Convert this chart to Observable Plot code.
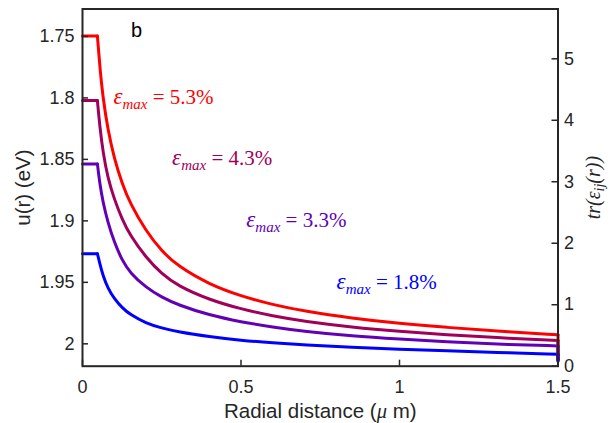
<!DOCTYPE html>
<html><head><meta charset="utf-8">
<script src="https://cdn.jsdelivr.net/npm/d3@7"></script>
<script src="https://cdn.jsdelivr.net/npm/@observablehq/plot@0.6"></script>
<style>html,body{margin:0;padding:0;background:#fff;overflow:hidden}</style>
</head><body><div id="chart"></div>
<script>
// ---- data ----
const radius   = [0, 0.047, 0.055, 0.065, 0.08, 0.1, 0.125, 0.15, 0.2, 0.25, 0.3, 0.4, 0.5, 0.6, 0.7, 0.85, 1.0, 1.15, 1.3, 1.5];
const strain53 = [5.37, 5.37, 4.85, 4.35, 3.85, 3.38, 2.97, 2.65, 2.20, 1.87, 1.63, 1.33, 1.14, 1.00, 0.895, 0.78, 0.695, 0.63, 0.575, 0.51];
const strain43 = [4.32, 4.32, 3.88, 3.47, 3.06, 2.72, 2.39, 2.13, 1.77, 1.50, 1.31, 1.08, 0.93, 0.815, 0.73, 0.635, 0.565, 0.51, 0.465, 0.42];
const strain33 = [3.29, 3.29, 2.95, 2.66, 2.34, 2.02, 1.72, 1.52, 1.28, 1.12, 1.00, 0.83, 0.72, 0.635, 0.565, 0.49, 0.44, 0.395, 0.36, 0.33];
const strain18 = [1.83, 1.83, 1.66, 1.47, 1.27, 1.10, 0.95, 0.84, 0.70, 0.62, 0.56, 0.48, 0.42, 0.38, 0.345, 0.305, 0.275, 0.25, 0.225, 0.195];
const edgeStrain = [0.10, 0.10, 0.10, 0.08];      // where each curve ends at r = 1.5
const seriesNames = ["5.3%", "4.3%", "3.3%", "1.8%"];
const seriesColors = ["#ff0000", "#a0005a", "#6200b8", "#0000ff"];
const flatEnd = 0.047;

const xTicks = [0, 0.5, 1, 1.5];
const uTicks = [1.75, 1.8, 1.85, 1.9, 1.95, 2];
const trTicks = [0, 1, 2, 3, 4, 5];
// left axis u(r) relates linearly to right axis tr: u = U0 - K * tr
const U0 = 2.0182, K = 0.05;

// annotation anchors (data units)
const noteX = [0.0976, 0.2825, 0.5165, 0.8016];
const noteY = [4.38, 3.38, 2.38, 1.36];

// ---- build rows ----
const allSeries = [strain53, strain43, strain33, strain18];
const rows = [];
allSeries.forEach((vals, s) => radius.forEach((r, i) => rows.push({series: seriesNames[s], x: r, tr: vals[i]})));
const flatRows = rows.filter(d => d.x <= flatEnd);
const decayRows = rows.filter(d => d.x >= flatEnd);
const dropRows = [];
allSeries.forEach((vals, s) => {
  dropRows.push({series: seriesNames[s], x: radius[radius.length - 1], tr: vals[vals.length - 1]});
  dropRows.push({series: seriesNames[s], x: radius[radius.length - 1], tr: edgeStrain[s]});
});
const notes = seriesNames.map((n, i) => ({series: n, x: noteX[i], tr: noteY[i], text: "εmax = " + n}));

const W = 610, H = 423, mL = 82, mR = 52.5, mT = 8.5, mB = 57.3;
const plotW = W - mL - mR, plotH = H - mT - mB;
const ink = "#262626";
const serif = "'Liberation Serif', 'Times New Roman', serif";
const lineOpts = {x: "x", y: "tr", z: "series", stroke: "series", strokeWidth: 3, strokeLinejoin: "round"};

const svg = Plot.plot({
  width: W, height: H,
  marginLeft: mL, marginRight: mR, marginTop: mT, marginBottom: mB,
  style: {fontFamily: "'Liberation Sans', Arial, sans-serif", fontSize: "18px", color: ink, background: "#fff"},
  x: {domain: [0, 1.5]},
  y: {domain: [0, 5.81]},
  color: {domain: seriesNames, range: seriesColors},
  marks: [
    Plot.line(flatRows, lineOpts),
    Plot.line(decayRows, {...lineOpts, curve: "basis"}),
    Plot.line(dropRows, lineOpts),
    Plot.text(notes, {x: "x", y: "tr", text: "text", fill: "series", textAnchor: "start", lineAnchor: "middle",
      fontFamily: serif, fontSize: 21}),
    Plot.frame({stroke: ink, strokeWidth: 2}),
    Plot.tickY(uTicks.map(u => (U0 - u) / K), {y: d => d, stroke: ink, strokeWidth: 1.5, insetRight: plotW - 6}),
    Plot.tickY(trTicks, {y: d => d, stroke: ink, strokeWidth: 1.5, insetLeft: plotW - 6}),
    Plot.tickX(xTicks, {x: d => d, stroke: ink, strokeWidth: 1.5, insetTop: plotH - 6}),
    Plot.axisY(uTicks.map(u => (U0 - u) / K), {anchor: "left", tickSize: 0, tickPadding: 8, label: null, fontSize: 18,
      tickFormat: d => String(+(U0 - d * K).toFixed(2))}),
    Plot.axisY(trTicks, {anchor: "right", tickSize: 0, tickPadding: 6, label: null, fontSize: 18, tickFormat: d => String(d)}),
    Plot.axisX(xTicks, {anchor: "bottom", tickSize: 0, tickPadding: 14, label: null, fontSize: 18, tickFormat: d => String(d)}),
    Plot.text(["u(r) (eV)"], {frameAnchor: "left", textAnchor: "middle", lineAnchor: "middle",
      dx: -59, rotate: -90, fontSize: 20.5, fill: ink}),
    Plot.text(["Radial distance (μ m)"], {frameAnchor: "bottom", textAnchor: "middle", lineAnchor: "top",
      dy: 37, fontSize: 20.5, fill: ink}),
    Plot.text(["tr(εij(r))"], {frameAnchor: "right", textAnchor: "middle", lineAnchor: "middle",
      dx: 35.5, rotate: -90, fontSize: 20, fill: ink, fontFamily: serif, fontStyle: "italic"}),
    Plot.text(["b"], {frameAnchor: "top-left", textAnchor: "middle", lineAnchor: "middle",
      dx: 54, dy: 21.5, fontSize: 20, fill: "#000"})
  ]
});

// ---- TeX-like subscripts as tspans ----
d3.select(svg).selectAll("text").each(function () {
  const t = d3.select(this);
  const s = this.textContent;
  const m = s.match(/^εmax = (.*)$/);
  if (m) {
    t.text(null);
    t.append("tspan").attr("font-style", "italic").attr("font-size", 23).text("ε");
    t.append("tspan").attr("font-style", "italic").attr("font-size", 15).attr("dy", 5).text("max");
    t.append("tspan").attr("dy", -5).text(" = " + m[1]);
  } else if (s === "tr(εij(r))") {
    t.text(null);
    t.append("tspan").text("tr(ε");
    t.append("tspan").attr("font-size", 14).attr("dy", 4).text("ij");
    t.append("tspan").attr("dy", -4).text("(r))");
  } else if (s === "Radial distance (μ m)") {
    t.text(null);
    t.append("tspan").text("Radial distance (");
    t.append("tspan").attr("font-style", "italic").attr("font-family", "'Liberation Serif', serif").text("μ");
    t.append("tspan").text(" m)");
  }
});

document.getElementById("chart").appendChild(svg);
</script>
</body></html>
